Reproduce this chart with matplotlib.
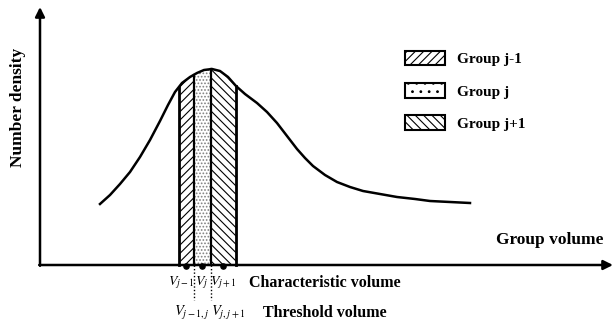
import numpy as np
import matplotlib
matplotlib.use("Agg")
import matplotlib.pyplot as plt
from matplotlib.patches import Patch

plt.rcParams["font.family"] = "Liberation Serif"
plt.rcParams["mathtext.fontset"] = "stix"
plt.rcParams["hatch.linewidth"] = 0.8

# number density curve (schematic)
vol = [60, 70, 80, 90, 100, 110, 120, 128, 135, 142, 150, 157, 164, 172,
       180, 188, 196, 205, 217, 227, 237, 247, 257, 265, 273, 285, 297,
       310, 323, 340, 357, 375, 390, 410, 430]
dens = [61, 70, 81, 93, 108, 125, 144, 160, 173, 182, 188, 192, 195, 196,
        194, 188, 179, 171, 162, 153, 142, 129, 116, 107, 99, 90, 83,
        78, 74, 71, 68, 66, 64, 63, 62]

# group boundaries (threshold volumes) and characteristic volumes
bounds = [139, 154, 171, 196]
char_vol = [146, 162, 183]
groups = ["Group j-1", "Group j", "Group j+1"]
hatches = ["////", ".....", "\\\\\\\\"]
hatch_cols = ["black", "0.5", "black"]
char_labels = [r"$V_{j-1}$", r"$V_j$", r"$V_{j+1}$"]
thr_labels = [r"$V_{j-1,j}$", r"$V_{j,j+1}$"]

fig = plt.figure(figsize=(6.16, 3.22), dpi=100)
ax = fig.add_axes([0, 0, 1, 1])
ax.set_xlim(-40, 576)
ax.set_ylim(-57, 265)
ax.axis("off")

vol = np.array(vol)
dens = np.array(dens)

# hatched bands under the curve
for i in range(3):
    xs = np.linspace(bounds[i], bounds[i + 1], 40)
    ys = np.interp(xs, vol, dens)
    ax.fill_between(xs, 0, ys, facecolor="white", edgecolor=hatch_cols[i],
                    hatch=hatches[i], linewidth=0, zorder=2)
for b in [bounds[0], bounds[-1]]:
    ax.plot([b, b], [0, np.interp(b, vol, dens)], color="black", lw=2, zorder=3)
for b in bounds[1:-1]:
    ax.plot([b, b], [0, np.interp(b, vol, dens)], color="black", lw=1.6, zorder=3)

ax.plot(vol, dens, color="black", lw=1.8, zorder=4, solid_joinstyle="round")

# axes with arrows
ax.annotate("", xy=(0, 258), xytext=(0, -0.8),
            arrowprops=dict(arrowstyle="-|>", color="black", lw=1.8,
                            mutation_scale=14, shrinkA=0, shrinkB=0))
ax.annotate("", xy=(573, 0), xytext=(-0.8, 0),
            arrowprops=dict(arrowstyle="-|>", color="black", lw=1.8,
                            mutation_scale=14, shrinkA=0, shrinkB=0))

# characteristic volume points and threshold lines
ax.scatter(char_vol, [-1] * 3, s=14, color="black", zorder=5, clip_on=False)
for b in bounds[1:-1]:
    ax.plot([b, b], [0, -35], color="black", lw=1, ls=(0, (1, 1.5)), zorder=3)

for v, lab in zip([141, 162, 183], char_labels):
    ax.text(v, -18, lab, ha="center", va="center", fontsize=10)
for b, lab in zip([152, 188], thr_labels):
    ax.text(b, -48, lab, ha="center", va="center", fontsize=10.5)

bold = dict(fontweight="bold", fontsize=11.5)
ax.text(-22, 158, "Number density", rotation=90, ha="center", va="center",
        fontweight="bold", fontsize=12.5)
ax.text(510, 25, "Group volume", ha="center", va="center",
        fontweight="bold", fontsize=12.5)
ax.text(285, -18, "Characteristic volume", ha="center", va="center", **bold)
ax.text(285, -48, "Threshold volume", ha="center", va="center", **bold)

handles = [Patch(facecolor="white", edgecolor="black", hatch=h, lw=1.5)
           for h in ["////", "..", "\\\\\\\\"]]
ax.legend(handles, groups, loc="upper left", bbox_to_anchor=(0.635, 0.885),
          frameon=False, handlelength=2.6, handleheight=1.1,
          labelspacing=1.1, handletextpad=0.8,
          prop=dict(family="Liberation Serif", weight="bold", size=11))

fig.savefig("out.png", dpi=100)
